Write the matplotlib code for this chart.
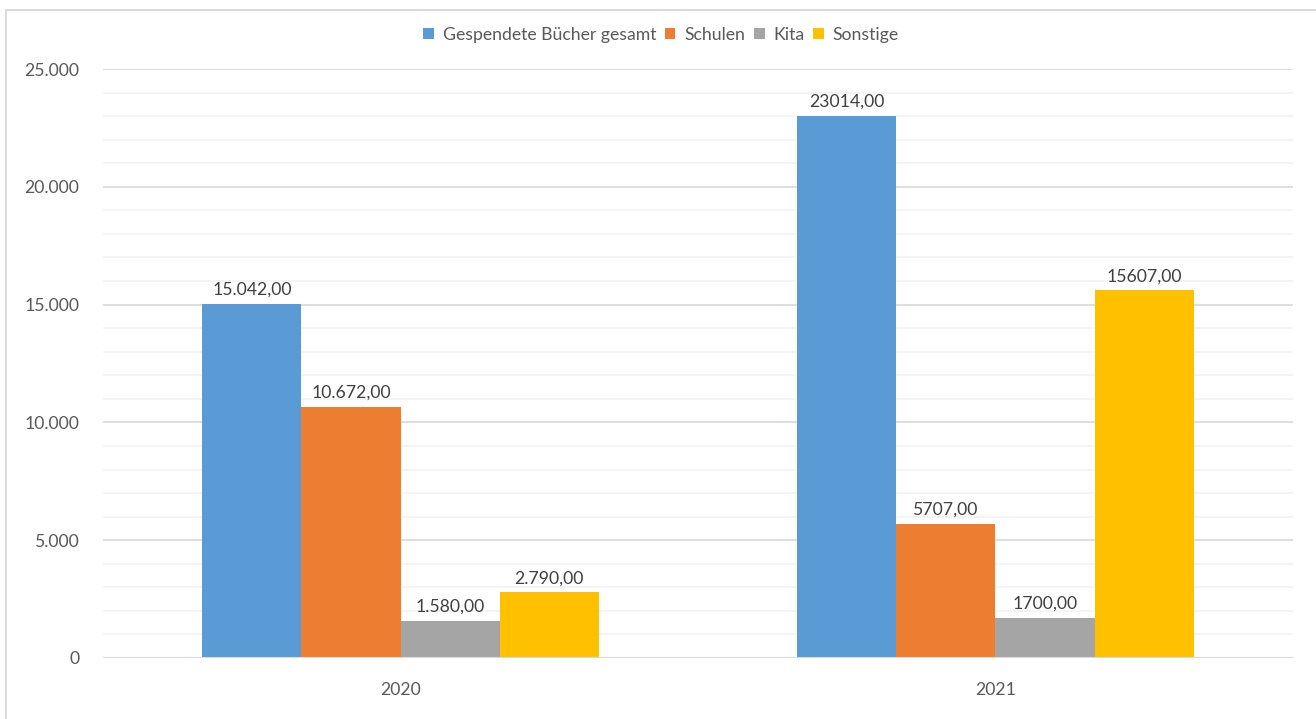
import matplotlib
matplotlib.use("Agg")
import matplotlib.pyplot as plt
from matplotlib.patches import Rectangle
from matplotlib.ticker import MultipleLocator, FuncFormatter
import numpy as np

plt.rcParams['font.family'] = ['Lato', 'DejaVu Sans']

years = ['2020', '2021']
series = ['Gespendete Bücher gesamt', 'Schulen', 'Kita', 'Sonstige']
values = [
    [15042, 23014],
    [10672, 5707],
    [1580, 1700],
    [2790, 15607],
]
labels = [
    ['15.042,00', '23014,00'],
    ['10.672,00', '5707,00'],
    ['1.580,00', '1700,00'],
    ['2.790,00', '15607,00'],
]
colors = ['#5B9BD5', '#ED7D31', '#A5A5A5', '#FFC000']

W, H = 1316, 719
fs = 12.7
fig = plt.figure(figsize=(W / 100, H / 100), dpi=100)
ax = fig.add_axes([103 / W, 1 - 658 / H, (1293 - 103) / W, (658 - 69) / H])

# chart border (cropped on the right and bottom in the original)
fig.patches.append(Rectangle((6 / W, -0.01), 1.05, 1 - 10 / H + 0.01,
                             transform=fig.transFigure, fill=False,
                             edgecolor='#D9D9D9', lw=1.3))

x = np.arange(len(years))
w = 1 / 6
for i, (name, vals) in enumerate(zip(series, values)):
    pos = x + (i - 1.5) * w
    bars = ax.bar(pos, vals, width=w, color=colors[i], label=name, zorder=3)
    for b, lab in zip(bars, labels[i]):
        ax.text(b.get_x() + b.get_width() / 2, b.get_height() + 250, lab,
                ha='center', va='bottom', fontsize=fs, color='#404040')

ax.set_xlim(-0.5, 1.5)
ax.set_ylim(0, 25000)
ax.set_xticks(x)
ax.set_xticklabels(years)
ax.yaxis.set_major_locator(MultipleLocator(5000))
ax.yaxis.set_minor_locator(MultipleLocator(1000))
ax.yaxis.set_major_formatter(FuncFormatter(lambda v, p: f'{int(v):,}'.replace(',', '.')))
ax.grid(axis='y', which='major', color='#D9D9D9', lw=1.2, zorder=0)
ax.grid(axis='y', which='minor', color='#F2F2F2', lw=1.2, zorder=0)
ax.tick_params(axis='both', which='both', length=0, labelsize=fs, colors='#595959')
ax.tick_params(axis='y', pad=17)
ax.tick_params(axis='x', pad=17)
for s in ax.spines.values():
    s.set_visible(False)
ax.axhline(0, color='#D9D9D9', lw=1.5, zorder=4)

fig.legend(loc='center', bbox_to_anchor=(661 / W, 1 - 35 / H), ncol=4, frameon=False,
           fontsize=fs, handlelength=0.6, handleheight=0.6, handletextpad=0.5,
           columnspacing=0.5, labelcolor='#595959')

fig.savefig('out.png', dpi=100)
